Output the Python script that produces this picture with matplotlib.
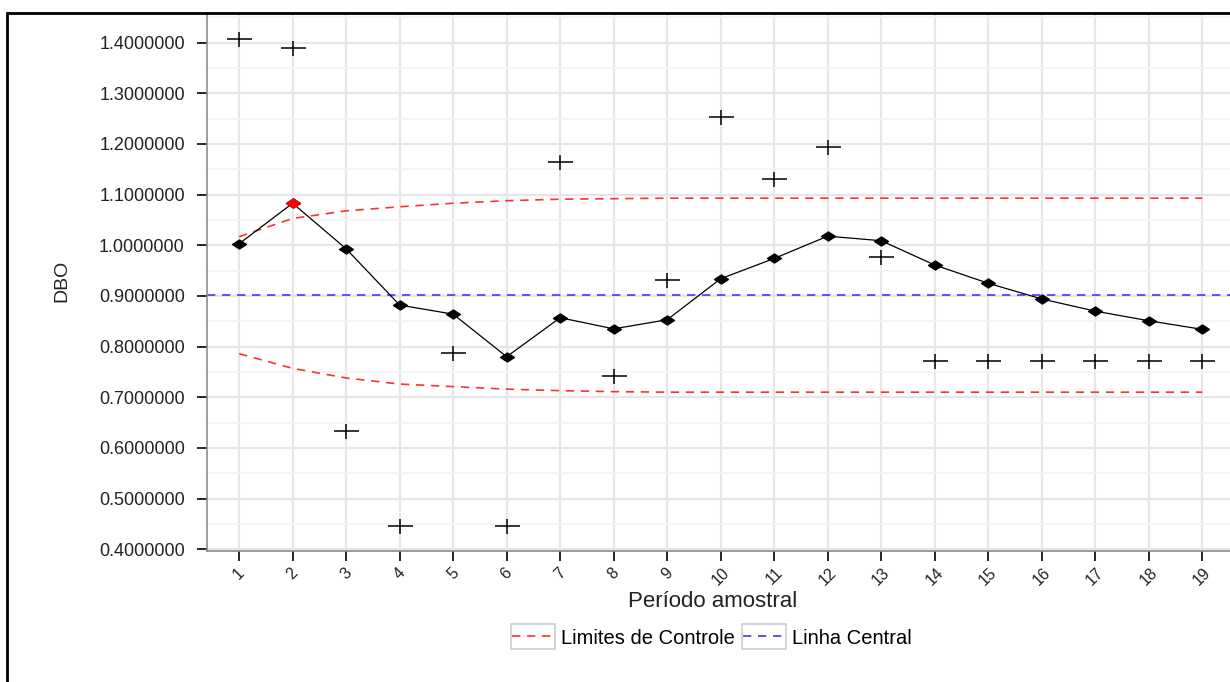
import numpy as np
import matplotlib
matplotlib.use("Agg")
import matplotlib.pyplot as plt
from matplotlib.patches import Rectangle
from matplotlib.path import Path
from matplotlib.ticker import MultipleLocator, FormatStrFormatter

plt.rcParams['font.family'] = ['Liberation Sans', 'DejaVu Sans']

# Data
periods = np.arange(1, 20)
observed = [1.408, 1.389, 0.634, 0.445, 0.787, 0.445, 1.164, 0.741, 0.932, 1.254,
            1.131, 1.194, 0.977, 0.772, 0.772, 0.772, 0.772, 0.772, 0.772]
ewma = [1.003, 1.083, 0.993, 0.882, 0.864, 0.780, 0.857, 0.835, 0.853, 0.934,
        0.974, 1.018, 1.009, 0.961, 0.925, 0.894, 0.870, 0.851, 0.834]
ucl = [1.017, 1.053, 1.068, 1.076, 1.083, 1.088, 1.091, 1.092, 1.093, 1.093,
       1.093, 1.093, 1.093, 1.093, 1.093, 1.093, 1.093, 1.093, 1.093]
lcl = [0.786, 0.757, 0.738, 0.726, 0.721, 0.716, 0.713, 0.711, 0.710, 0.710,
       0.710, 0.710, 0.710, 0.710, 0.710, 0.710, 0.710, 0.710, 0.710]
center = 0.9015
out_of_control = [2]

# the original picture is stretched sideways, so markers are wider than tall
wide_plus = Path([(-1, 0), (1, 0), (0, -0.6), (0, 0.6)],
                 [Path.MOVETO, Path.LINETO, Path.MOVETO, Path.LINETO])
wide_diamond = Path([(-1, 0), (0, 0.65), (1, 0), (0, -0.65), (-1, 0)],
                    [Path.MOVETO, Path.LINETO, Path.LINETO, Path.LINETO, Path.CLOSEPOLY])

W, H = 1230, 682
fig = plt.figure(figsize=(W / 100, H / 100), dpi=100)

# panel goes past the right edge like in the original crop
left, right, top, bottom = 207, 1234.4, 13, 551
ax = fig.add_axes([left / W, 1 - bottom / H, (right - left) / W, (bottom - top) / H])

ax.set_xlim(0.4, 19.6)
ax.set_ylim(0.3964, 1.4586)

# grid
ax.yaxis.set_major_locator(MultipleLocator(0.1))
ax.yaxis.set_minor_locator(MultipleLocator(0.05))
ax.xaxis.set_major_locator(MultipleLocator(1))
ax.grid(True, which='major', color='#e6e6e6', lw=1.6, zorder=0)
ax.grid(True, which='minor', axis='y', color='#f4f4f4', lw=1.2, zorder=0)
ax.set_axisbelow(True)

# control limits and center line
ax.plot(periods, ucl, color='#ff3030', ls=(0, (5, 4)), lw=1.2, label='Limites de Controle', zorder=2)
ax.plot(periods, lcl, color='#ff3030', ls=(0, (5, 4)), lw=1.2, zorder=2)
ax.axhline(center, color='#3a3aff', ls=(0, (5, 4)), lw=1.2, label='Linha Central', zorder=2)

# EWMA line and raw observations
ax.plot(periods, ewma, color='black', lw=0.9, marker=wide_diamond, ms=10, zorder=3)
idx = [p - 1 for p in out_of_control]
ax.plot(periods[idx], np.array(ewma)[idx], ls='none', marker=wide_diamond, ms=10,
        color='red', zorder=4)
ax.plot(periods, observed, ls='none', marker=wide_plus, ms=18, mew=1.1, color='black', zorder=3)

# axes styling
for s in ['top', 'right']:
    ax.spines[s].set_visible(False)
for s in ['left', 'bottom']:
    ax.spines[s].set_color('#8c8c8c')
    ax.spines[s].set_linewidth(1.2)

ax.yaxis.set_major_formatter(FormatStrFormatter('%.7f'))
ax.tick_params(axis='both', which='major', length=7, width=1.2, color='black',
               labelcolor='#222222', pad=9)
ax.tick_params(axis='y', labelsize=13)
ax.tick_params(axis='y', which='minor', length=0)
ax.set_xticks(periods)
ax.set_xticklabels([str(p) for p in periods], rotation=45, ha='center', va='top')
ax.tick_params(axis='x', pad=3, labelsize=11.5)

ax.set_ylabel('DBO', fontsize=14, color='#222222')
ax.yaxis.set_label_coords(-0.1334, 0.502)
ax.set_xlabel('Período amostral', fontsize=16, color='#222222')
ax.xaxis.set_label_coords(0.4917, -0.0745)

# legend below the plot, each key in its own small box
leg = fig.legend(loc='center', bbox_to_anchor=(712 / W, 1 - 638 / H), ncol=2,
                 frameon=False, fontsize=14.5, handlelength=2.1, handletextpad=0.35,
                 columnspacing=0.4)
fig.canvas.draw()
renderer = fig.canvas.get_renderer()
for h in leg.legend_handles:
    bb = h.get_window_extent(renderer)
    cx, cy = (bb.x0 + bb.x1) / 2, (bb.y0 + bb.y1) / 2
    fig.patches.append(Rectangle(((cx - 22) / W, (cy - 12.5) / H), 44 / W, 25 / H,
                                 transform=fig.transFigure, fill=False,
                                 ec='#cccccc', lw=1.2))

# outer border of the original image
fig.patches.append(Rectangle((7 / W, -0.1), 1.2, 1 - 13 / H + 0.1,
                             transform=fig.transFigure, fill=False, ec='black', lw=2))

fig.savefig('out.png', dpi=100)
